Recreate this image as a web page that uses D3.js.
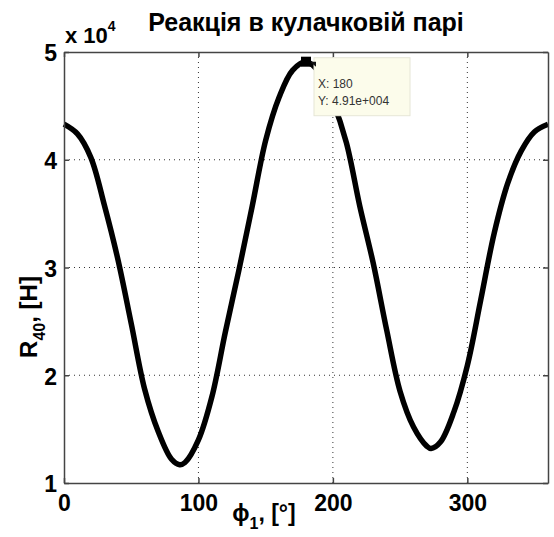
<!DOCTYPE html>
<html lang="uk">
<head>
    <meta charset="utf-8">
    <title>Реакція в кулачковій парі</title>
    <style>
        body {
            margin: 0;
            background: #fff;
        }
        text {
            font-family: "Liberation Sans", Arial, sans-serif;
        }
        .tick text {
            font-size: 23px;
            font-weight: bold;
            fill: #000;
        }
    </style>
</head>
<body>
<svg class="chart"></svg>
<script src="https://d3js.org/d3.v7.min.js"></script>
<script>
    // angle phi_1, degrees
    const angles = [0, 10, 20, 30, 40, 50, 60, 70, 80, 86, 90, 100, 110, 120, 130, 140, 150, 160, 170, 180,
        190, 200, 210, 220, 230, 240, 250, 260, 270, 273, 280, 290, 300, 310, 320, 330, 340, 350, 360];
    // R40, x 10^4 H
    const reaction = [4.33, 4.24, 4.02, 3.58, 3.08, 2.48, 1.87, 1.48, 1.22, 1.17, 1.19, 1.40, 1.80, 2.40, 2.97, 3.57, 4.18, 4.58, 4.83, 4.91,
        4.81, 4.54, 4.16, 3.57, 3.04, 2.42, 1.85, 1.52, 1.34, 1.32, 1.38, 1.66, 2.09, 2.70, 3.32, 3.78, 4.08, 4.26, 4.33];
    const xTicks = [0, 100, 200, 300];
    const yTicks = [1, 2, 3, 4, 5];
    // data cursor
    const tipX = [180];
    const tipY = [4.91];
    const tipLabels = ["X: 180", "Y: 4.91e+004"];

    const width = 554, height = 537;
    const margin = {top: 52, right: 6, bottom: 54, left: 64};

    const svg = d3.select(".chart")
        .attr("width", width)
        .attr("height", height);

    const x = d3.scaleLinear().domain([0, 360]).range([margin.left, width - margin.right]);
    const y = d3.scaleLinear().domain([1, 5]).range([height - margin.bottom, margin.top]);

    // grid
    const grid = svg.append("g")
        .attr("stroke", "#333")
        .attr("stroke-width", 1)
        .attr("stroke-dasharray", "1,4");
    grid.selectAll(".gx")
        .data(xTicks.slice(1))
        .enter().append("line")
        .attr("x1", d => x(d)).attr("x2", d => x(d))
        .attr("y1", y(5)).attr("y2", y(1));
    grid.selectAll(".gy")
        .data(yTicks.slice(1, -1))
        .enter().append("line")
        .attr("x1", x(0)).attr("x2", x(360))
        .attr("y1", d => y(d)).attr("y2", d => y(d));

    // curve
    const line = d3.line()
        .x((d, i) => x(angles[i]))
        .y(d => y(d))
        .curve(d3.curveCatmullRom);
    svg.append("path")
        .datum(reaction)
        .attr("d", line)
        .attr("fill", "none")
        .attr("stroke", "#000")
        .attr("stroke-width", 5.5)
        .attr("stroke-linejoin", "round");

    // axes (box with inward ticks)
    const xAxis = d3.axisBottom(x).tickValues(xTicks).tickSize(-5).tickSizeOuter(0).tickPadding(12);
    const yAxis = d3.axisLeft(y).tickValues(yTicks).tickSize(-5).tickSizeOuter(0).tickPadding(7)
        .tickFormat(d3.format("d"));
    const gx = svg.append("g")
        .attr("transform", "translate(0," + y(1) + ")")
        .call(xAxis);
    const gy = svg.append("g")
        .attr("transform", "translate(" + x(0) + ",0)")
        .call(yAxis);
    gy.selectAll(".tick text").attr("dy", "0.38em");
    svg.append("g")
        .attr("transform", "translate(0," + y(5) + ")")
        .call(d3.axisTop(x).tickValues(xTicks).tickSize(-5).tickSizeOuter(0).tickFormat(""));
    svg.append("g")
        .attr("transform", "translate(" + x(360) + ",0)")
        .call(d3.axisRight(y).tickValues(yTicks).tickSize(-5).tickSizeOuter(0).tickFormat(""));
    svg.selectAll(".domain, .tick line")
        .attr("stroke", "#444")
        .attr("stroke-width", 1.5);

    // exponent
    const expo = svg.append("text")
        .attr("x", x(0) + 1)
        .attr("y", 43)
        .attr("font-size", 22)
        .attr("font-weight", "bold");
    expo.append("tspan").text("x 10");
    expo.append("tspan").attr("dy", -12).attr("font-size", 14).text("4");

    // title
    svg.append("text")
        .attr("x", (x(0) + x(360)) / 2)
        .attr("y", 31)
        .attr("text-anchor", "middle")
        .attr("font-size", 25)
        .attr("font-weight", "bold")
        .text("Реакція в кулачковій парі");

    // axis labels
    const xl = svg.append("text")
        .attr("x", 264)
        .attr("y", 521)
        .attr("text-anchor", "middle")
        .attr("font-size", 23)
        .attr("font-weight", "bold");
    xl.append("tspan").text("ϕ");
    xl.append("tspan").attr("dy", 8).attr("font-size", 16).text("1");
    xl.append("tspan").attr("dy", -8).text(", [°]");

    const yl = svg.append("text")
        .attr("transform", "translate(37,317) rotate(-90)")
        .attr("text-anchor", "middle")
        .attr("font-size", 24)
        .attr("font-weight", "bold");
    yl.append("tspan").text("R");
    yl.append("tspan").attr("dy", 8).attr("font-size", 16).text("40");
    yl.append("tspan").attr("dy", -8).text(", [H]");

    // data tip
    const tip = svg.append("g");
    tip.append("rect")
        .attr("x", x(tipX[0]) + 8)
        .attr("y", y(tipY[0]) - 4)
        .attr("width", 96)
        .attr("height", 58)
        .attr("fill", "#fcfceb")
        .attr("stroke", "#e6e6d6");
    tip.append("path")
        .attr("d", "M" + (x(tipX[0]) + 4) + "," + (y(tipY[0]) + 0) + "l6,0l0,5z")
        .attr("fill", "#111");
    tip.selectAll(".tl")
        .data(tipLabels)
        .enter().append("text")
        .attr("x", x(tipX[0]) + 12)
        .attr("y", (d, i) => y(tipY[0]) + 26 + i * 17)
        .attr("font-size", 12)
        .attr("fill", "#333")
        .text(d => d);
    tip.selectAll(".marker")
        .data(tipX)
        .enter().append("rect")
        .attr("x", d => x(d) - 5)
        .attr("y", (d, i) => y(tipY[i]) - 5)
        .attr("width", 10)
        .attr("height", 10)
        .attr("fill", "#000");
</script>
</body>
</html>
